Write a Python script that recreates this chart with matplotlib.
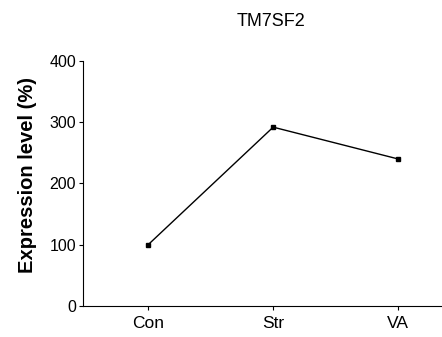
import matplotlib
matplotlib.use("Agg")
import matplotlib.pyplot as plt

plt.rcParams["font.family"] = ["Liberation Sans", "DejaVu Sans"]

groups = ["Con", "Str", "VA"]
expression = [100, 292, 240]
y_ticks = [0, 100, 200, 300, 400]


def main() -> None:
    fig = plt.figure(figsize=(4.42, 3.37), dpi=100)
    ax = fig.add_axes([0.188, 0.092, 0.812, 0.727])

    x = list(range(len(groups)))
    ax.plot(x, expression, color="black", linewidth=1.0, marker="s", markersize=3.5)

    ax.set_xlim(-0.52, 2.35)
    ax.set_ylim(0, 400)
    ax.set_xticks(x)
    ax.set_xticklabels(groups, fontsize=12.5)
    ax.set_yticks(y_ticks)
    ax.set_yticklabels([str(v) for v in y_ticks], fontsize=11.5)
    ax.tick_params(direction="out", length=3, width=0.8, pad=2)
    ax.tick_params(axis="x", pad=4)
    ax.spines["top"].set_visible(False)
    ax.spines["right"].set_visible(False)
    ax.set_ylabel("Expression level (%)", fontsize=14.5, fontweight="bold")
    ax.yaxis.set_label_coords(-0.128, 0.535)

    fig.text(0.612, 0.935, "TM7SF2", ha="center", va="center", fontsize=13)

    fig.savefig("out.png", dpi=100)
    plt.close(fig)


if __name__ == "__main__":
    main()
